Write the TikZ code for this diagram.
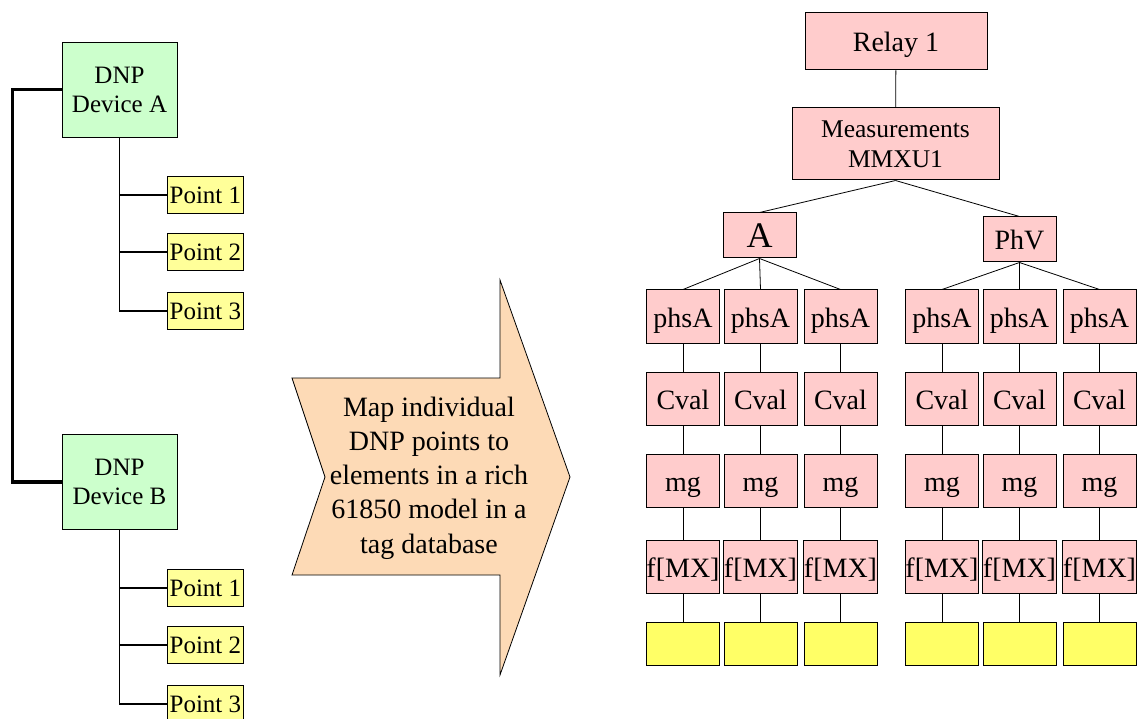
\documentclass[tikz,border=0pt]{standalone}
\usepackage{fontspec}
\setmainfont{Liberation Serif}
\usetikzlibrary{positioning}

\definecolor{devgreen}{HTML}{CCFFCC}
\definecolor{pntyellow}{HTML}{FFFF99}
\definecolor{objpink}{HTML}{FFCCCC}
\definecolor{tagyellow}{HTML}{FFFF66}
\definecolor{mappeach}{HTML}{FDDAB6}

\begin{document}
\begin{tikzpicture}[x=1pt,y=-1pt,node distance=82pt,on grid,
    dev/.style={draw,fill=devgreen,line width=0.8pt,minimum width=115pt,minimum height=95pt,
      inner sep=0pt,align=center,font=\fontsize{25}{29}\selectfont},
    pnt/.style={draw,fill=pntyellow,line width=0.8pt,minimum width=76pt,minimum height=37pt,
      inner sep=0pt,anchor=west,font=\fontsize{25}{29}\selectfont},
    obj/.style={draw,fill=objpink,line width=1pt,minimum width=73pt,minimum height=53pt,
      inner sep=0pt,text height=24pt,text depth=3pt,font=\fontsize{28}{32}\selectfont},
    tag/.style={draw,fill=tagyellow,line width=1pt,minimum width=73pt,minimum height=43pt},
    lnk/.style={line width=0.8pt}]
    \useasboundingbox (0,0) rectangle (1143,719);

    % DNP side
    \node[dev] (devA) at (119.5,89.5) {DNP\\Device A};
    \node[dev] (devB) at (119.5,482) {DNP\\Device B};
    \node[pnt] (pA1) at (167,195) {Point 1};
    \node[pnt] (pA2) at (167,252) {Point 2};
    \node[pnt] (pA3) at (167,311) {Point 3};
    \node[pnt] (pB1) at (167,588) {Point 1};
    \node[pnt] (pB2) at (167,645) {Point 2};
    \node[pnt] (pB3) at (167,704) {Point 3};

    \draw[line width=3.5pt] (devA.west) -- ++(-49,0) |- (devB.west);
    \draw[line width=1.6pt] (devA.south) |- (pA1.west)
                            (devA.south) |- (pA2.west)
                            (devA.south) |- (pA3.west);
    \draw[line width=1.6pt] (devB.south) |- (pB1.west)
                            (devB.south) |- (pB2.west)
                            (devB.south) |- (pB3.west);

    % mapping arrow
    \draw[fill=mappeach,line width=0.8pt] (292,378) -- (500,378) -- (500,280) -- (570,477)
        -- (500,675) -- (500,575) -- (292,575) -- (325,477) -- cycle;
    \node[align=center,font=\fontsize{28}{34.25}\selectfont] (maptxt) at (429,478)
        {Map individual\\DNP points to\\elements in a rich\\61850 model in a\\tag database};

    % 61850 side
    \node[obj,minimum width=182pt,minimum height=57pt] (relay) at (896,41.5) {Relay 1};
    \node[obj,minimum width=207pt,minimum height=72pt,align=center,text height=,text depth=,
      font=\fontsize{25.5}{30}\selectfont] (meas) at (895.5,144) {Measurements\\MMXU1};
    \node[obj,minimum height=45pt,text height=,text depth=,font=\fontsize{36}{40}\selectfont]
        (a) at (759.5,235.5) {A};
    \node[obj,minimum height=45pt,text height=,text depth=] (phv) at (1019.5,239.5) {PhV};

    \node[obj] (pa1) at (683,316.5)  {phsA};
    \node[obj] (pa2) at (760.5,316.5) {phsA};
    \node[obj] (pa3) at (840.5,316.5) {phsA};
    \node[obj] (pa4) at (942,316.5)  {phsA};
    \node[obj] (pa5) at (1019.5,316.5) {phsA};
    \node[obj] (pa6) at (1099.5,316.5) {phsA};

    \node[obj] (cv1) [below=of pa1] {Cval};
    \node[obj] (cv2) [below=of pa2] {Cval};
    \node[obj] (cv3) [below=of pa3] {Cval};
    \node[obj] (cv4) [below=of pa4] {Cval};
    \node[obj] (cv5) [below=of pa5] {Cval};
    \node[obj] (cv6) [below=of pa6] {Cval};

    \node[obj] (mg1) [below=of cv1] {mg};
    \node[obj] (mg2) [below=of cv2] {mg};
    \node[obj] (mg3) [below=of cv3] {mg};
    \node[obj] (mg4) [below=of cv4] {mg};
    \node[obj] (mg5) [below=of cv5] {mg};
    \node[obj] (mg6) [below=of cv6] {mg};

    \node[obj] (fx1) [below=86pt of mg1] {f[MX]};
    \node[obj] (fx2) [below=86pt of mg2] {f[MX]};
    \node[obj] (fx3) [below=86pt of mg3] {f[MX]};
    \node[obj] (fx4) [below=86pt of mg4] {f[MX]};
    \node[obj] (fx5) [below=86pt of mg5] {f[MX]};
    \node[obj] (fx6) [below=86pt of mg6] {f[MX]};

    \node[tag] (tg1) [below=77pt of fx1] {};
    \node[tag] (tg2) [below=77pt of fx2] {};
    \node[tag] (tg3) [below=77pt of fx3] {};
    \node[tag] (tg4) [below=77pt of fx4] {};
    \node[tag] (tg5) [below=77pt of fx5] {};
    \node[tag] (tg6) [below=77pt of fx6] {};

    \path[lnk]
    (relay) edge (meas)
    (meas.south) edge (a.north)
                 edge (phv.north)
    (a.south) edge (pa1.north)
              edge (pa2.north)
              edge (pa3.north)
    (phv.south) edge (pa4.north)
                edge (pa5.north)
                edge (pa6.north)
    (pa1) edge (cv1) (cv1) edge (mg1) (mg1) edge (fx1) (fx1) edge (tg1)
    (pa2) edge (cv2) (cv2) edge (mg2) (mg2) edge (fx2) (fx2) edge (tg2)
    (pa3) edge (cv3) (cv3) edge (mg3) (mg3) edge (fx3) (fx3) edge (tg3)
    (pa4) edge (cv4) (cv4) edge (mg4) (mg4) edge (fx4) (fx4) edge (tg4)
    (pa5) edge (cv5) (cv5) edge (mg5) (mg5) edge (fx5) (fx5) edge (tg5)
    (pa6) edge (cv6) (cv6) edge (mg6) (mg6) edge (fx6) (fx6) edge (tg6);

\end{tikzpicture}
\end{document}
